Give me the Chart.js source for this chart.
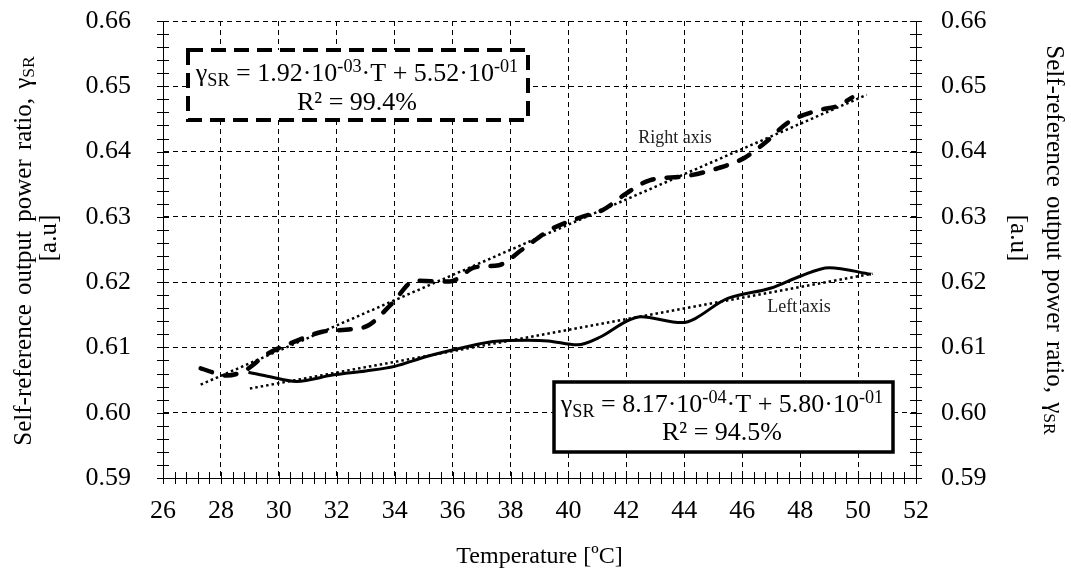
<!DOCTYPE html>
<html>
<head>
<meta charset="utf-8">
<script src="https://cdn.jsdelivr.net/npm/chart.js@4.4.1/dist/chart.umd.min.js"></script>
<style>
  html, body { margin: 0; padding: 0; background: #fff; }
  #wrap { width: 1071px; height: 575px; }
</style>
</head>
<body>
<div id="wrap"><canvas id="chart"></canvas></div>
<script>
// --- data ---
const tempTicks = [26, 28, 30, 32, 34, 36, 38, 40, 42, 44, 46, 48, 50, 52];
const ratioTicks = [0.59, 0.60, 0.61, 0.62, 0.63, 0.64, 0.65, 0.66];

// left axis series (solid)
const leftT = [28.95, 29.7, 30.6, 31.9, 33.0, 34.0, 35.1, 36.3, 37.4, 38.6, 39.3, 40.3, 41.1, 42.0, 42.5, 43.9, 45.5, 47.0, 48.0, 49.0, 50.45];
const leftRatio = [0.6062, 0.6055, 0.6048, 0.6058, 0.6064, 0.6071, 0.6086, 0.6099, 0.6109, 0.6111, 0.6110, 0.6104, 0.6116, 0.6140, 0.6147, 0.6138, 0.6175, 0.6191, 0.6209, 0.6222, 0.6212];

// right axis series (dashed)
const rightT = [27.3, 28.2, 28.8, 29.6, 30.5, 31.5, 32.5, 33.1, 33.9, 34.7, 35.9, 36.8, 37.6, 38.4, 39.4, 40.4, 41.2, 42.0, 42.8, 44.0, 45.2, 46.1, 46.8, 47.6, 48.6, 49.3, 49.8];
const rightRatio = [0.6068, 0.6057, 0.6064, 0.6090, 0.6108, 0.6124, 0.6128, 0.6134, 0.6167, 0.6202, 0.6201, 0.6223, 0.6226, 0.6250, 0.6281, 0.6299, 0.6311, 0.6336, 0.6356, 0.6362, 0.6375, 0.6391, 0.6414, 0.6445, 0.6463, 0.6470, 0.6483];

// linear fits (end points)
const leftFitT = [29.0, 50.5];
const leftFitRatio = [0.6037, 0.6213];
const rightFitT = [27.3, 50.3];
const rightFitRatio = [0.6043, 0.6487];

const FONT = '"Liberation Serif", "Times New Roman", serif';

function pts(xs, ys) {
    return xs.map((x, i) => ({ x: x, y: ys[i] }));
}
function isTick(list, v) {
    return list.some(t => Math.abs(t - v) < 1e-6);
}

// texte avec indices / exposants
const eqRight = [
    { t: "γ" }, { t: "SR", sub: true }, { t: " = 1.92·10" }, { t: "-03", sup: true },
    { t: "·T + 5.52·10" }, { t: "-01", sup: true }
];
const eqLeft = [
    { t: "γ" }, { t: "SR", sub: true }, { t: " = 8.17·10" }, { t: "-04", sup: true },
    { t: "·T + 5.80·10" }, { t: "-01", sup: true }
];
const yTitle = [{ t: "Self-reference output power ratio, γ" }, { t: "SR", sub: true }];

// extra: pixels ajoutés à chaque espace
function partWidth(ctx, p, size, extra) {
    const s = (p.sub || p.sup) ? size * 0.7 : size;
    ctx.font = s + "px " + FONT;
    const spaces = (p.t.match(/ /g) || []).length;
    return ctx.measureText(p.t).width + spaces * (extra || 0);
}

function richWidth(ctx, parts, size, extra) {
    return parts.reduce((w, p) => w + partWidth(ctx, p, size, extra), 0);
}

function drawRich(ctx, parts, cx, y, size, extra) {
    let x = cx - richWidth(ctx, parts, size, extra) / 2;
    ctx.textAlign = "left";
    parts.forEach(p => {
        const s = (p.sub || p.sup) ? size * 0.7 : size;
        ctx.font = s + "px " + FONT;
        const dy = p.sub ? size * 0.2 : (p.sup ? -size * 0.36 : 0);
        p.t.split(" ").forEach((word, i) => {
            if (i > 0) x += ctx.measureText(" ").width + (extra || 0);
            ctx.fillText(word, x, y + dy);
            x += ctx.measureText(word).width;
        });
    });
}

const extras = {
    id: "extras",
    afterDraw(chart) {
        const ctx = chart.ctx;
        const xs = chart.scales.x, ys = chart.scales.y, ys2 = chart.scales.y2;
        const area = chart.chartArea;
        ctx.save();
        ctx.strokeStyle = "#000";
        ctx.lineWidth = 1;
        ctx.setLineDash([]);
        // ticks crossing the axes
        ctx.beginPath();
        xs.ticks.forEach(t => {
            const px = Math.round(xs.getPixelForValue(t.value)) + 0.5;
            ctx.moveTo(px, area.bottom - 6);
            ctx.lineTo(px, area.bottom + 6);
        });
        ys.ticks.forEach(t => {
            const py = Math.round(ys.getPixelForValue(t.value)) + 0.5;
            ctx.moveTo(area.left - 6, py);
            ctx.lineTo(area.left + 6, py);
        });
        ys2.ticks.forEach(t => {
            const py = Math.round(ys2.getPixelForValue(t.value)) + 0.5;
            ctx.moveTo(area.right - 6, py);
            ctx.lineTo(area.right + 6, py);
        });
        ctx.stroke();

        // equation boxes
        ctx.fillStyle = "#fff";
        ctx.fillRect(188, 50, 340, 70);
        ctx.lineWidth = 4;
        ctx.setLineDash([15, 8]);
        ctx.strokeRect(188, 50, 340, 70);

        ctx.fillRect(554, 382, 339, 70);
        ctx.lineWidth = 3.5;
        ctx.setLineDash([]);
        ctx.strokeRect(554, 382, 339, 70);

        ctx.fillStyle = "#000";
        ctx.textBaseline = "alphabetic";
        drawRich(ctx, eqRight, 357, 81, 26);
        drawRich(ctx, [{ t: "R² = 99.4%" }], 357, 110, 26);
        drawRich(ctx, eqLeft, 722, 412, 26);
        drawRich(ctx, [{ t: "R² = 94.5%" }], 722, 440, 26);

        // series labels
        ctx.fillStyle = "#222";
        drawRich(ctx, [{ t: "Right axis" }], 675, 143, 18);
        drawRich(ctx, [{ t: "Left axis" }], 799, 312, 18);

        // axis titles
        ctx.fillStyle = "#000";
        ctx.textBaseline = "middle";
        drawRich(ctx, [{ t: "Temperature [ºC]" }], (area.left + area.right) / 2, 557, 24);

        ctx.save();
        ctx.translate(24, 251);
        ctx.rotate(-Math.PI / 2);
        drawRich(ctx, yTitle, 0, 0, 25, 3);
        ctx.restore();
        ctx.save();
        ctx.translate(49, 238);
        ctx.rotate(-Math.PI / 2);
        drawRich(ctx, [{ t: "[a.u]" }], 0, 0, 25);
        ctx.restore();

        ctx.save();
        ctx.translate(1054, 240);
        ctx.rotate(Math.PI / 2);
        drawRich(ctx, yTitle, 0, 0, 25, 3);
        ctx.restore();
        ctx.save();
        ctx.translate(1018, 238);
        ctx.rotate(Math.PI / 2);
        drawRich(ctx, [{ t: "[a.u]" }], 0, 0, 25);
        ctx.restore();

        ctx.restore();
    }
};

const gridColor = list => c => isTick(list, c.tick.value) ? "#000" : "rgba(0,0,0,0)";
const noPad = s => { s.paddingTop = 0; s.paddingBottom = 0; s.paddingLeft = 0; s.paddingRight = 0; };

new Chart(document.getElementById("chart"), {
    type: "line",
    data: {
        datasets: [
            {
                data: pts(leftT, leftRatio),
                yAxisID: "y",
                borderColor: "#000",
                borderWidth: 3,
                cubicInterpolationMode: "monotone",
                pointRadius: 0
            },
            {
                data: pts(rightT, rightRatio),
                yAxisID: "y2",
                borderColor: "#000",
                borderWidth: 4.5,
                borderDash: [12, 13],
                borderCapStyle: "round",
                cubicInterpolationMode: "monotone",
                pointRadius: 0
            },
            {
                data: pts(leftFitT, leftFitRatio),
                yAxisID: "y",
                borderColor: "#000",
                borderWidth: 2.5,
                borderDash: [2.5, 3],
                pointRadius: 0
            },
            {
                data: pts(rightFitT, rightFitRatio),
                yAxisID: "y2",
                borderColor: "#000",
                borderWidth: 2.5,
                borderDash: [2.5, 3],
                pointRadius: 0
            }
        ]
    },
    options: {
        responsive: true,
        maintainAspectRatio: false,
        animation: false,
        layout: { padding: { top: 21 } },
        plugins: { legend: { display: false }, tooltip: { enabled: false } },
        scales: {
            x: {
                type: "linear",
                min: 26,
                max: 52,
                afterFit: s => { noPad(s); s.height = 97; },
                ticks: {
                    stepSize: 0.4,
                    autoSkip: false,
                    maxRotation: 0,
                    padding: 18,
                    color: "#000",
                    font: { family: FONT, size: 26 },
                    callback: v => isTick(tempTicks, v) ? String(Math.round(v)) : ""
                },
                grid: { color: gridColor(tempTicks), lineWidth: 1, drawTicks: false },
                border: { display: true, color: "#000", width: 1, dash: [5, 4] }
            },
            y: {
                position: "left",
                min: 0.59,
                max: 0.66,
                afterFit: s => { noPad(s); s.width = 163; },
                ticks: {
                    stepSize: 0.002,
                    autoSkip: false,
                    padding: 32,
                    color: "#000",
                    font: { family: FONT, size: 26 },
                    callback: v => isTick(ratioTicks, v) ? v.toFixed(2) : ""
                },
                grid: { color: gridColor(ratioTicks), lineWidth: 1, drawTicks: false },
                border: { display: true, color: "#000", width: 1, dash: [5, 4] }
            },
            y2: {
                position: "right",
                min: 0.59,
                max: 0.66,
                afterFit: s => { noPad(s); s.width = 155; },
                ticks: {
                    stepSize: 0.002,
                    autoSkip: false,
                    padding: 25,
                    color: "#000",
                    font: { family: FONT, size: 26 },
                    callback: v => isTick(ratioTicks, v) ? v.toFixed(2) : ""
                },
                grid: { display: false, drawTicks: false },
                border: { display: true, color: "#000", width: 1 }
            }
        }
    },
    plugins: [extras]
});
</script>
</body>
</html>
